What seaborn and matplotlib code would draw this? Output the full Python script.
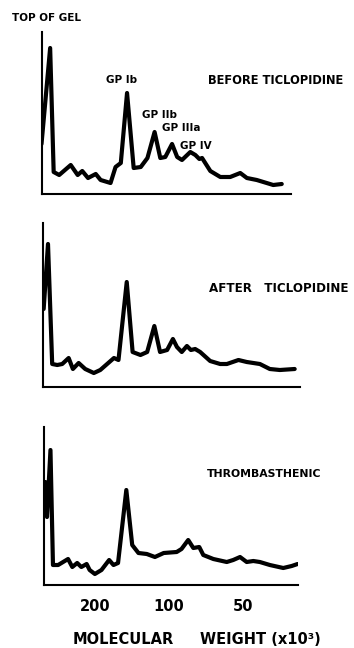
import matplotlib
matplotlib.use("Agg")
import matplotlib.pyplot as plt
import pandas as pd
import seaborn as sns

# ---- data: densitometric scans of SDS gels (MW in x10^3, intensity in arbitrary units)
before_mw = [333, 307, 297, 282, 253, 237, 227, 215, 200, 191, 174, 166, 158, 149, 140,
             131, 123, 115, 109, 104, 97.6, 93, 88.9, 82.2, 78.4, 75.5, 73.6, 68.1, 62.0,
             56.5, 51.4, 48.3, 44.0, 40.1, 37.7, 34.8]
before_int = [50, 146, 22, 19, 29, 19, 23, 16, 20, 14, 11, 27, 31, 101, 26,
              27, 36, 62, 36, 37, 50, 37, 34, 42, 39, 35, 36, 23, 17,
              17, 21, 16, 14, 11, 9, 10]

after_mw = [325, 312, 300, 286, 273, 257, 247, 234, 220, 203, 191, 168, 161, 149, 141,
            131, 123, 115, 109, 102, 96.6, 93, 88.9, 84.7, 81.6, 78.4, 74.8, 68.1, 62.0,
            58.2, 52.2, 48.3, 45.4, 42.7, 38.9, 35.4, 30.8]
after_int = [78, 143, 23, 22, 23, 29, 18, 24, 18, 14, 17, 29, 27, 105, 35,
             32, 35, 61, 35, 37, 48, 40, 35, 41, 37, 38, 35, 26, 23,
             23, 27, 25, 24, 23, 18, 17, 18]

thromb_mw = [321, 318, 313, 303, 296, 282, 257, 247, 236, 227, 216, 210, 200, 188, 175,
             168, 161, 149, 141, 133, 123, 114, 105, 93, 88.9, 83.5, 79.6, 75.3, 72.5,
             66.0, 58.2, 54.8, 51.4, 48.3, 45.4, 42.7, 38.9, 34.3, 31.7, 30.0]
thromb_int = [70, 103, 68, 135, 20, 20, 26, 18, 22, 18, 21, 15, 11, 15, 25,
              20, 22, 95, 40, 32, 31, 28, 32, 33, 36, 45, 37, 38, 30,
              26, 23, 25, 28, 23, 24, 23, 20, 17, 19, 21]

tick_mw = [200, 100, 50]
tick_labels = ["200", "100", "50"]
panel_titles = ["BEFORE TICLOPIDINE", "AFTER   TICLOPIDINE", "THROMBASTHENIC"]
peak_names = ["GP Ib", "GP IIb", "GP IIIa", "GP IV"]

sns.set_style("white")
plt.rcParams["font.family"] = ["DejaVu Sans"]

W, H = 354, 648
fig = plt.figure(figsize=(W / 100, H / 100), dpi=100)


def add_ax(left, top, right, bottom):
    return fig.add_axes([left / W, 1 - bottom / H, (right - left) / W, (bottom - top) / H])


panels = [
    (before_mw, before_int, (41.5, 32, 291, 194), (333, 31.9), 162),
    (after_mw, after_int, (43, 223, 300, 387), (327, 29.3), 164),
    (thromb_mw, thromb_int, (44.3, 427, 298.3, 585), (321, 29.8), 158),
]

axes = []
for i, (mw, inten, box, xl, ytop) in enumerate(panels):
    ax = add_ax(*box)
    df = pd.DataFrame({"mw": mw, "intensity": inten})
    sns.lineplot(data=df, x="mw", y="intensity", ax=ax, color="black",
                 linewidth=3.0, estimator=None, sort=False,
                 solid_joinstyle="round", solid_capstyle="round")
    ax.set_xscale("log")
    ax.set_xlim(*xl)
    ax.set_ylim(0, ytop)
    for s in ["top", "right"]:
        ax.spines[s].set_visible(False)
    for s in ["left", "bottom"]:
        ax.spines[s].set_color("black")
        ax.spines[s].set_linewidth(1.5)
    ax.set_xlabel("")
    ax.set_ylabel("")
    ax.set_yticks([])
    ax.minorticks_off()
    if i == 2:
        ax.set_xticks(tick_mw)
        ax.set_xticklabels(tick_labels, fontsize=10.5, fontweight="bold")
        ax.tick_params(axis="x", direction="out", length=3, width=1, pad=7, colors="black")
        ax.minorticks_off()
    else:
        ax.set_xticks([])
    ax.patch.set_alpha(0)
    axes.append(ax)


def ftext(x, y, s, size=7.5, ha="center", **kw):
    fig.text(x / W, 1 - y / H, s, fontsize=size, fontweight="bold", ha=ha,
             va="center", color="black", **kw)


ftext(12, 18, "TOP OF GEL", ha="left")
ftext(208, 80, panel_titles[0], size=8.3, ha="left")
ftext(209, 288, panel_titles[1], size=8.6, ha="left")
ftext(207, 474, panel_titles[2], size=7.8, ha="left")

ftext(122, 80, peak_names[0])
ftext(160, 115, peak_names[1])
ftext(181, 128, peak_names[2])
ftext(196, 146, peak_names[3])

ftext(123, 640, "MOLECULAR", size=10.5)
ftext(260, 640, "WEIGHT (x10³)", size=10.5)

fig.savefig("out.png", dpi=100)
